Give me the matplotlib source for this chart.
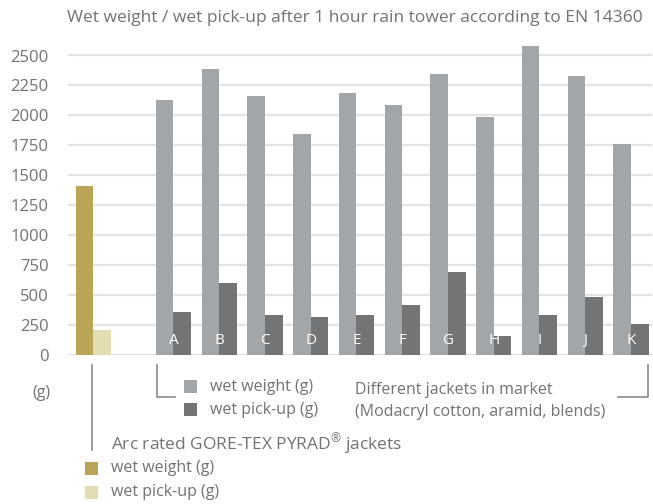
"""Wet weight / wet pick-up bar chart after rain tower test (EN 14360)."""

import matplotlib
matplotlib.use("Agg")
import matplotlib.pyplot as plt
from matplotlib.lines import Line2D
from matplotlib.patches import Rectangle
import numpy as np

plt.rcParams["font.family"] = ["Open Sans", "DejaVu Sans"]
plt.rcParams["mathtext.fontset"] = "custom"
plt.rcParams["mathtext.rm"] = "Open Sans"

# --- data -------------------------------------------------------------
jackets = ["A", "B", "C", "D", "E", "F", "G", "H", "I", "J", "K"]
market_wet_weight = [2130, 2385, 2162, 1848, 2188, 2085, 2345, 1984, 2580, 2330, 1765]
market_pick_up = [360, 600, 335, 315, 335, 420, 695, 160, 335, 480, 255]
gore_wet_weight = 1410
gore_pick_up = 210
y_ticks = [0, 250, 500, 750, 1000, 1250, 1500, 1750, 2000, 2250, 2500]

title = "Wet weight / wet pick-up after 1 hour rain tower according to EN 14360"

# --- style ------------------------------------------------------------
GORE_WW = "#b9a557"
GORE_PU = "#e3dbb2"
MKT_WW = "#a3a6a9"
MKT_PU = "#737476"
TEXT = "#727272"
GRID = "#e3e3e3"
LINE = "#8a8a8a"

W, H = 653, 504
fig = plt.figure(figsize=(W / 100, H / 100), dpi=100)


def fx(px):
    return px / W


def fy(py):
    return 1 - py / H


# axes: left gridline start at x=68, baseline at y=355
ymax = 2620
px_per_unit = 0.1198
ax_top = 355 - ymax * px_per_unit
ax = fig.add_axes([fx(68), fy(355), (652 - 68) / W, (355 - ax_top) / H])

x = np.arange(len(jackets))
bw = 0.385
gore_x = -1.75

ax.bar(x - bw / 2, market_wet_weight, bw, color=MKT_WW, zorder=2)
ax.bar(x + bw / 2, market_pick_up, bw, color=MKT_PU, zorder=2)
ax.bar(gore_x - bw / 2, gore_wet_weight, bw, color=GORE_WW, zorder=2)
ax.bar(gore_x + bw / 2, gore_pick_up, bw, color=GORE_PU, zorder=2)

for xi, name in zip(x, jackets):
    ax.text(xi, 55, name, ha="center", va="bottom", color="white",
            fontsize=11, zorder=3)

ax.set_xlim(-2.306, 10.46)
ax.set_ylim(0, ymax)
ax.set_yticks(y_ticks)
ax.set_yticklabels([str(v) for v in y_ticks])
ax.tick_params(axis="y", length=0, pad=14, labelsize=12, labelcolor=TEXT)
ax.set_xticks([])
ax.grid(axis="y", color=GRID, linewidth=1.6, zorder=0)
for s in ax.spines.values():
    s.set_visible(False)

fig.text(fx(355), fy(18), title, ha="center", va="center",
         fontsize=12.5, color=TEXT)

# unit label
fig.text(fx(41), fy(393), "(g)", ha="center", va="center", fontsize=11.5, color=TEXT)

# brackets
def fline(xs, ys):
    fig.add_artist(Line2D([fx(v) for v in xs], [fy(v) for v in ys],
                          color=LINE, linewidth=1.2))


fline([92, 92], [365, 450])
fline([157, 157, 175], [365, 397, 397])
fline([618, 648, 648], [397, 397, 365])


def fsquare(px, py, color):
    fig.add_artist(Rectangle((fx(px), fy(py + 13)), 13 / W, 13 / H,
                             facecolor=color, edgecolor="none"))


# market legend
fsquare(184, 380, MKT_WW)
fsquare(184, 403, MKT_PU)
fig.text(fx(210), fy(387), "wet weight (g)", va="center", fontsize=11.5, color=TEXT)
fig.text(fx(210), fy(410), "wet pick-up (g)", va="center", fontsize=11.5, color=TEXT)
fig.text(fx(355), fy(390), "Different jackets in market", va="center",
         fontsize=11.5, color=TEXT)
fig.text(fx(355), fy(412), "(Modacryl cotton, aramid, blends)", va="center",
         fontsize=11.5, color=TEXT)

# gore legend
fig.text(fx(111), fy(445), "Arc rated GORE-TEX PYRAD$^{\u00ae}$ jackets",
         va="center", fontsize=12.5, color=TEXT)
fsquare(85, 462, GORE_WW)
fsquare(85, 486, GORE_PU)
fig.text(fx(111), fy(468), "wet weight (g)", va="center", fontsize=11.5, color=TEXT)
fig.text(fx(111), fy(492), "wet pick-up (g)", va="center", fontsize=11.5, color=TEXT)

fig.savefig("out.png", dpi=100)
